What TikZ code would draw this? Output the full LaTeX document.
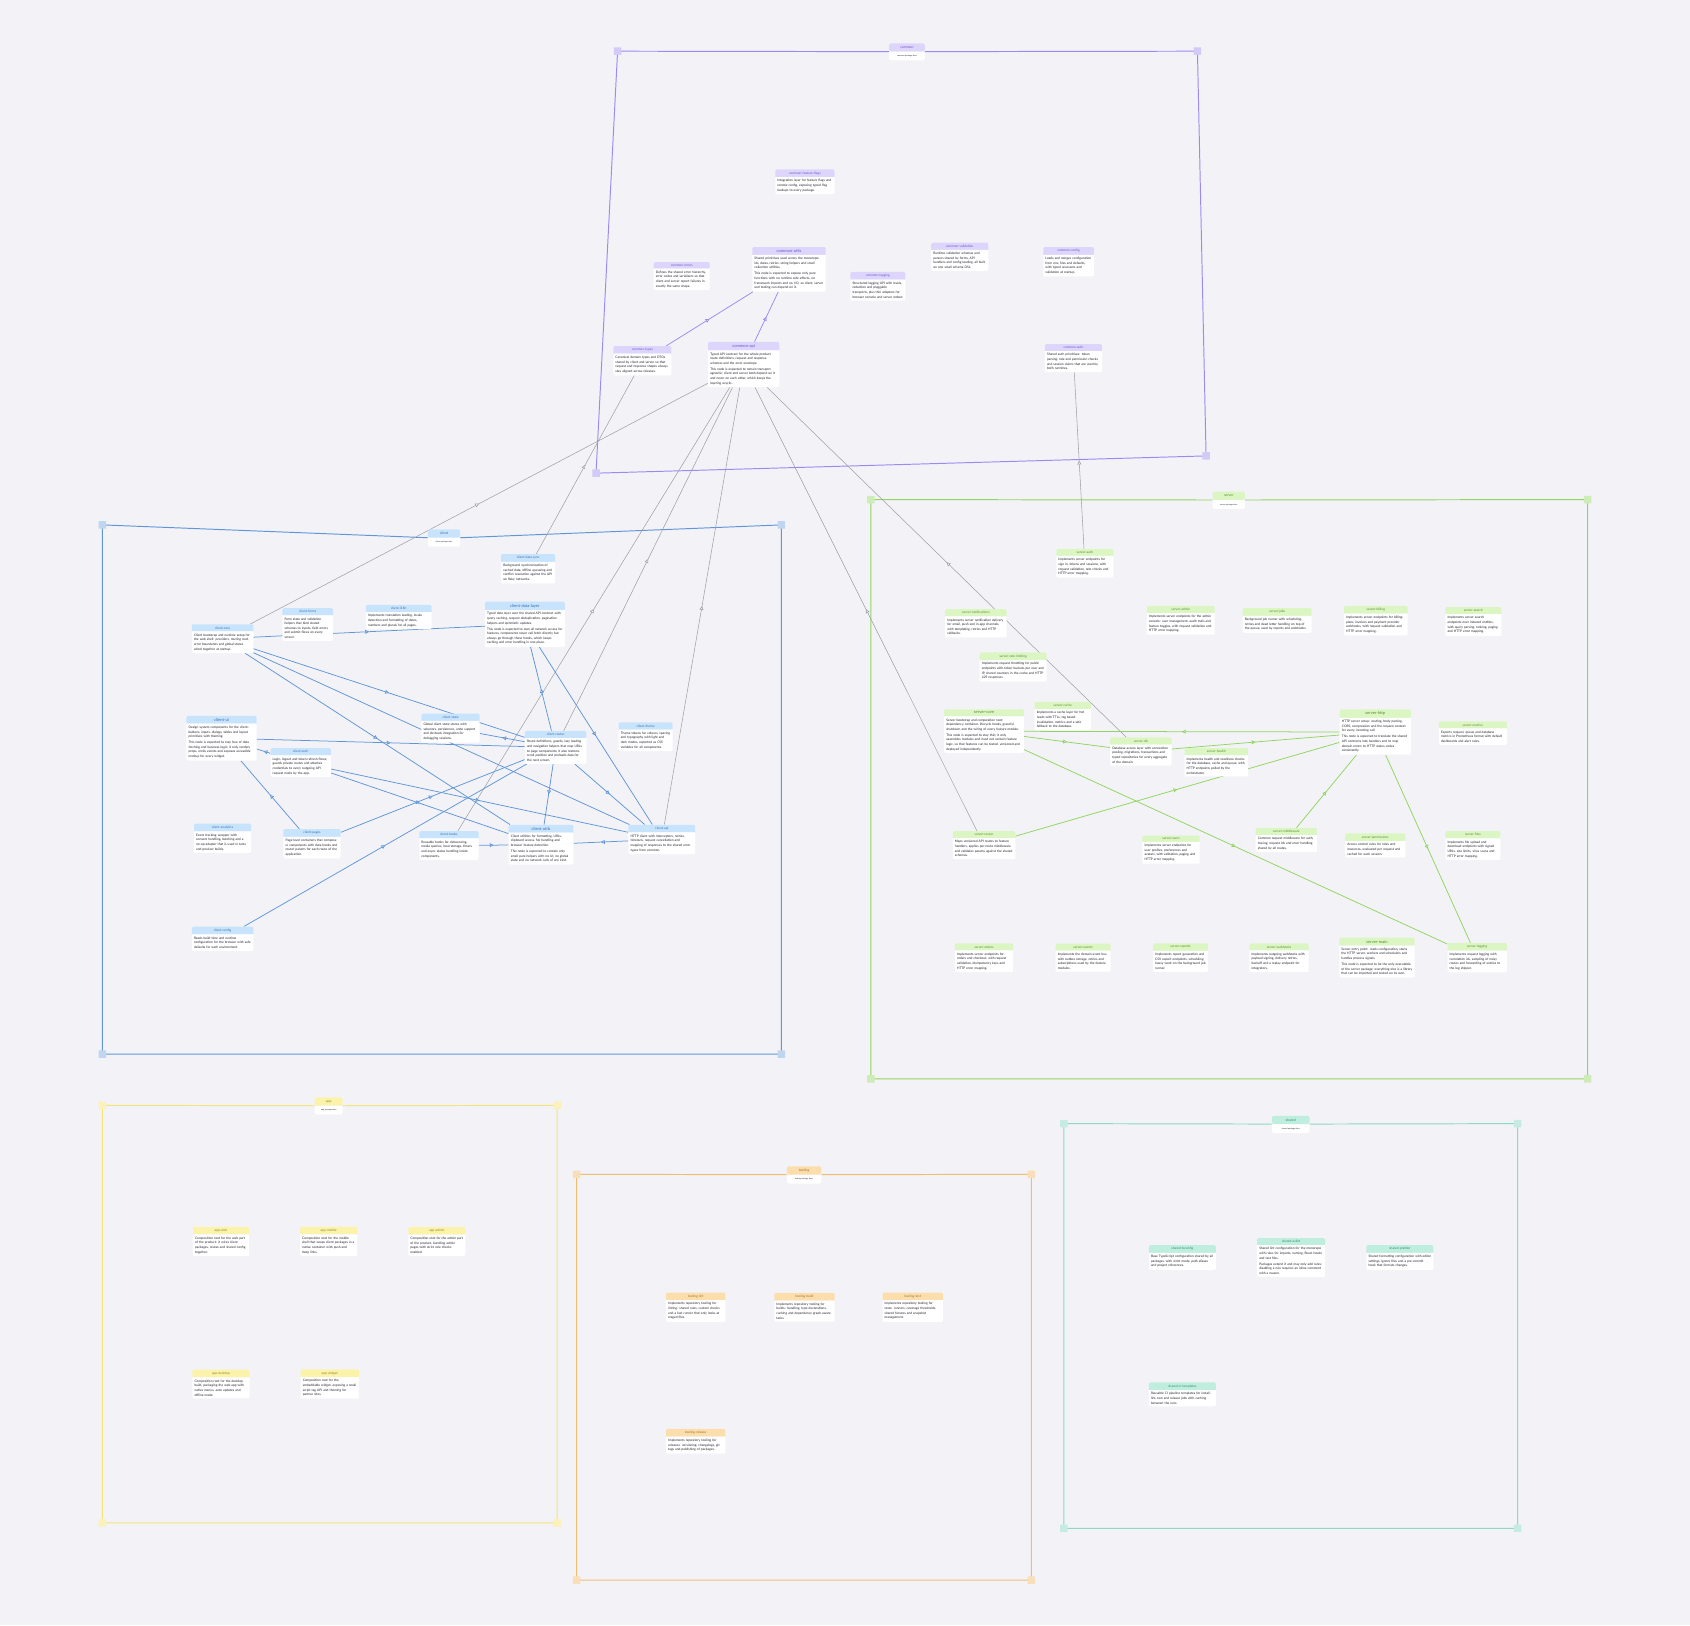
\documentclass[tikz,border=0pt]{standalone}
\usepackage{fontspec}
\setmainfont{Lato}
\usetikzlibrary{positioning,shapes.multipart,arrows.meta,decorations.markings}

\definecolor{paper}{RGB}{243,243,247}
\definecolor{ink}{RGB}{30,30,40}
\definecolor{wire}{RGB}{160,160,170}
\definecolor{cmline}{RGB}{157,138,240}
\definecolor{cmhd}{RGB}{222,213,252}
\definecolor{cmtx}{RGB}{105,88,200}
\definecolor{clline}{RGB}{96,150,215}
\definecolor{clhd}{RGB}{200,228,252}
\definecolor{cltx}{RGB}{55,110,180}
\definecolor{svline}{RGB}{145,212,95}
\definecolor{svhd}{RGB}{220,246,195}
\definecolor{svtx}{RGB}{85,140,45}
\definecolor{apline}{RGB}{245,228,120}
\definecolor{aphd}{RGB}{252,243,170}
\definecolor{aptx}{RGB}{150,130,30}
\definecolor{tlline}{RGB}{240,190,115}
\definecolor{tlhd}{RGB}{252,222,172}
\definecolor{tltx}{RGB}{165,110,35}
\definecolor{shline}{RGB}{140,218,195}
\definecolor{shhd}{RGB}{192,238,222}
\definecolor{shtx}{RGB}{45,140,115}

\setlength{\parindent}{0pt}
\newcommand{\desc}[1]{\par\nodepart{two}\raggedright\color{ink}#1\par}

\pgfdeclarelayer{paperlayer}
\pgfdeclarelayer{wires}
\pgfsetlayers{paperlayer,wires,main}

\tikzset{
  pkg/.style 2 args={rectangle split, rectangle split parts=2, rectangle split draw splits=false,
    rectangle split part fill={#1,white}, rounded corners=1.2pt,
    inner xsep=2pt, inner ysep=2pt, text width=49pt, anchor=north,
    text=#2, font=\fontsize{3}{4.3}\selectfont},
  grp/.style={fill=#1, rounded corners=1.5pt, inner xsep=1.5pt, inner ysep=0pt,
    minimum height=7.5pt, align=center, anchor=north, font=\fontsize{3.2}{3.8}\selectfont},
  grpsub/.style={fill=white, rounded corners=1.5pt, inner xsep=1.5pt, inner ysep=0pt,
    minimum height=8pt, align=center, text=ink, font=\fontsize{1.8}{2.2}\selectfont},
  pkgframe/.style={draw=#1, line width=0.9pt},
  dep/.style={draw=#1, line width=0.7pt, postaction={decorate},
    decoration={markings, mark=at position 0.5 with {\arrow{Triangle[length=3.6pt, width=3.6pt, fill=paper]}}}},
}

\begin{document}
\begin{tikzpicture}[x=1pt, y=-1pt]
    \useasboundingbox (0,0) rectangle (1568,1508);
    \begin{pgfonlayer}{paperlayer}
      \fill[paper] (0,0) rectangle (1568,1508);
    \end{pgfonlayer}

    % group titles
    \node[grp=cmhd, text=cmtx, text width=30pt] (cm) at (841.5,40) {common};
    \node[grpsub, text width=30pt, below=0pt of cm] (cm_sub) {common package docs};
    \node[grp=clhd, text=cltx, text width=27pt] (cl) at (412,491) {client};
    \node[grpsub, text width=27pt, below=0pt of cl] (cl_sub) {client package docs};
    \node[grp=svhd, text=svtx, text width=27pt] (sv) at (1140,456) {server};
    \node[grpsub, text width=27pt, below=0pt of sv] (sv_sub) {server package docs};
    \node[grp=aphd, text=aptx, text width=23pt] (ap) at (305,1018) {app};
    \node[grpsub, text width=23pt, below=0pt of ap] (ap_sub) {app package docs};
    \node[grp=tlhd, text=tltx, text width=29pt] (tl) at (746,1082) {tooling};
    \node[grpsub, text width=29pt, below=0pt of tl] (tl_sub) {tooling package docs};
    \node[grp=shhd, text=shtx, text width=32pt] (sh) at (1197.5,1035) {shared};
    \node[grpsub, text width=32pt, below=0pt of sh] (sh_sub) {shared package docs};

    % define nodes: common
    \node[pkg={cmhd}{cmtx}, text width=51pt] (cm_flags) at (746.8,157) {\centering common-feature-flags\desc{Integration layer for feature flags and remote config, exposing typed flag lookups to every package.}};
    \node[pkg={cmhd}{cmtx}, text width=64pt] (cm_utils) at (732,229) {\centering\fontsize{3.8}{4.6}\selectfont common-utils\desc{Shared primitives used across the monorepo: ids, dates, retries, string helpers and small collection utilities.\par\vspace{1.2pt}This node is expected to expose only pure functions with no runtime side effects, no framework imports and no I/O, so client, server and tooling can depend on it.}};
    \node[pkg={cmhd}{cmtx}, text width=48pt] (cm_errors) at (632.5,243) {\centering common-errors\desc{Defines the shared error hierarchy, error codes and serializers so that client and server report failures in exactly the same shape.}};
    \node[pkg={cmhd}{cmtx}, text width=47pt] (cm_logging) at (814.5,252) {\centering common-logging\desc{Structured logging API with levels, redaction and pluggable transports, plus thin adapters for browser console and server stdout.}};
    \node[pkg={cmhd}{cmtx}, text width=49pt] (cm_validation) at (890.5,225) {\centering common-validation\desc{Runtime validation schemas and parsers shared by forms, API handlers and config loading, all built on one small schema DSL.}};
    \node[pkg={cmhd}{cmtx}, text width=43pt] (cm_config) at (991.5,229) {\centering common-config\desc{Loads and merges configuration from env, files and defaults, with typed accessors and validation at startup.}};
    \node[pkg={cmhd}{cmtx}, text width=50pt] (cm_types) at (596,321) {\centering common-types\desc{Canonical domain types and DTOs shared by client and server so that request and response shapes always stay aligned across releases.}};
    \node[pkg={cmhd}{cmtx}, text width=62pt] (cm_api) at (690,317) {\centering\fontsize{3.8}{4.6}\selectfont common-api\desc{Typed API contract for the whole product: route definitions, request and response schemas and the error envelope.\par\vspace{1.2pt}This node is expected to remain transport agnostic; client and server both depend on it and never on each other, which keeps the layering acyclic.}};
    \node[pkg={cmhd}{cmtx}, text width=49pt] (cm_auth) at (996,319) {\centering common-auth\desc{Shared auth primitives: token parsing, role and permission checks and session claims that are used by both runtimes.}};

    % define nodes: client
    \node[pkg={clhd}{cltx}, text width=53pt] (cl_core) at (206.5,579) {\centering client-core\desc{Client bootstrap and runtime setup for the web shell: providers, routing root, error boundaries and global stores wired together at startup.}};
    \node[pkg={clhd}{cltx}, text width=43pt] (cl_forms) at (285.5,564) {\centering client-forms\desc{Form state and validation helpers that bind shared schemas to inputs, field errors and submit flows on every screen.}};
    \node[pkg={clhd}{cltx}, text width=57pt] (cl_i18n) at (370,561) {\centering client-i18n\desc{Implements translation loading, locale detection and formatting of dates, numbers and plurals for all pages.}};
    \node[pkg={clhd}{cltx}, text width=46pt] (cl_sync) at (490,514) {\centering client-data-sync\desc{Background synchronisation of cached data, offline queueing and conflict resolution against the API on flaky networks.}};
    \node[pkg={clhd}{cltx}, text width=70pt] (cl_data) at (487,558) {\centering\fontsize{3.8}{4.6}\selectfont client-data-layer\desc{Typed data layer over the shared API contract with query caching, request deduplication, pagination helpers and optimistic updates.\par\vspace{1.2pt}This node is expected to own all network access for features; components never call fetch directly but always go through these hooks, which keeps caching and error handling in one place.}};
    \node[pkg={clhd}{cltx}, text width=61pt] (cl_ui) at (205.5,664) {\centering\fontsize{3.8}{4.6}\selectfont client-ui\desc{Design system components for the client: buttons, inputs, dialogs, tables and layout primitives with theming.\par\vspace{1.2pt}This node is expected to stay free of data fetching and business logic; it only renders props, emits events and exposes accessible markup for every widget.}};
    \node[pkg={clhd}{cltx}, text width=50pt] (cl_state) at (418,662) {\centering client-state\desc{Global client state stores with selectors, persistence, undo support and devtools integration for debugging sessions.}};
    \node[pkg={clhd}{cltx}, text width=46pt] (cl_theme) at (599,670) {\centering client-theme\desc{Theme tokens for colours, spacing and typography with light and dark modes, exported as CSS variables for all components.}};
    \node[pkg={clhd}{cltx}, text width=53pt] (cl_router) at (515.5,678) {\centering client-router\desc{Route definitions, guards, lazy loading and navigation helpers that map URLs to page components; it also restores scroll position and preloads data for the next screen.}};
    \node[pkg={clhd}{cltx}, text width=52pt] (cl_auth) at (279,694) {\centering client-auth\desc{Login, logout and token refresh flows; guards private routes and attaches credentials to every outgoing API request made by the app.}};
    \node[pkg={clhd}{cltx}, text width=49pt] (cl_analytics) at (206.5,764) {\centering client-analytics\desc{Event tracking wrapper with consent handling, batching and a no-op adapter that is used in tests and preview builds.}};
    \node[pkg={clhd}{cltx}, text width=49pt] (cl_pages) at (289.5,769) {\centering client-pages\desc{Page level containers that compose ui components with data hooks and router params for each route of the application.}};
    \node[pkg={clhd}{cltx}, text width=51pt] (cl_hooks) at (416.5,771) {\centering client-hooks\desc{Reusable hooks for debouncing, media queries, local storage, timers and async status handling inside components.}};
    \node[pkg={clhd}{cltx}, text width=56pt] (cl_utils) at (502,765) {\centering\fontsize{3.8}{4.6}\selectfont client-utils\desc{Client utilities for formatting, URLs, clipboard access, file handling and browser feature detection.\par\vspace{1.2pt}This node is expected to contain only small pure helpers with no UI, no global state and no network calls of any kind.}};
    \node[pkg={clhd}{cltx}, text width=58pt] (cl_api) at (614,765) {\centering client-api\desc{HTTP client with interceptors, retries, timeouts, request cancellation and mapping of responses to the shared error types from common.}};
    \node[pkg={clhd}{cltx}, text width=53pt, below=68pt of cl_analytics] (cl_config) {\centering client-config\desc{Reads build time and runtime configuration for the browser with safe defaults for each environment.}};

    % define nodes: server
    \node[pkg={svhd}{svtx}, text width=49pt] (sv_auth) at (1006.5,509) {\centering server-auth\desc{Implements server endpoints for sign in, tokens and sessions, with request validation, rate checks and HTTP error mapping.}};
    \node[pkg={svhd}{svtx}, text width=53pt] (sv_notify) at (905.5,565) {\centering server-notifications\desc{Implements server notification delivery for email, push and in-app channels, with templating, retries and HTTP callbacks.}};
    \node[pkg={svhd}{svtx}, text width=59pt] (sv_admin) at (1095.5,562) {\centering server-admin\desc{Implements server endpoints for the admin console: user management, audit trails and feature toggles, with request validation and HTTP error mapping.}};
    \node[pkg={svhd}{svtx}, text width=60pt] (sv_jobs) at (1185,564) {\centering server-jobs\desc{Background job runner with scheduling, retries and dead letter handling on top of the queue, used by reports and webhooks.}};
    \node[pkg={svhd}{svtx}, text width=55pt] (sv_billing) at (1276.5,562) {\centering server-billing\desc{Implements server endpoints for billing: plans, invoices and payment provider webhooks, with request validation and HTTP error mapping.}};
    \node[pkg={svhd}{svtx}, text width=48pt] (sv_search) at (1367,563) {\centering server-search\desc{Implements server search endpoints over indexed entities, with query parsing, ranking, paging and HTTP error mapping.}};
    \node[pkg={svhd}{svtx}, text width=58pt] (sv_ratelimit) at (940,605) {\centering server-rate-limiting\desc{Implements request throttling for public endpoints with token buckets per user and IP, shared counters in the cache and HTTP 429 responses.}};
    \node[pkg={svhd}{svtx}, text width=48pt] (sv_cache) at (986,651) {\centering server-cache\desc{Implements a cache layer for hot reads with TTLs, tag based invalidation, metrics and a safe fallback to the database.}};
    \node[pkg={svhd}{svtx}, text width=70pt] (sv_core) at (913,658) {\centering\fontsize{3.8}{4.6}\selectfont server-core\desc{Server bootstrap and composition root: dependency container, lifecycle hooks, graceful shutdown and the wiring of every feature module.\par\vspace{1.2pt}This node is expected to stay thin; it only assembles modules and must not contain feature logic, so that features can be tested, versioned and deployed independently.}};
    \node[pkg={svhd}{svtx}, text width=53pt] (sv_db) at (1058.5,684) {\centering server-db\desc{Database access layer with connection pooling, migrations, transactions and typed repositories for every aggregate of the domain.}};
    \node[pkg={svhd}{svtx}, text width=55pt] (sv_health) at (1128.5,694) {\centering server-health\desc{Implements health and readiness checks for the database, cache and queue, with HTTP endpoints polled by the orchestrator.}};
    \node[pkg={svhd}{svtx}, text width=62pt] (sv_http) at (1276,658) {\centering\fontsize{3.8}{4.6}\selectfont server-http\desc{HTTP server setup: routing, body parsing, CORS, compression and the request context for every incoming call.\par\vspace{1.2pt}This node is expected to translate the shared API contracts into handlers and to map domain errors to HTTP status codes consistently.}};
    \node[pkg={svhd}{svtx}, text width=59pt] (sv_metrics) at (1366.5,669) {\centering server-metrics\desc{Exports request, queue and database metrics in Prometheus format with default dashboards and alert rules.}};
    \node[pkg={svhd}{svtx}, text width=54pt] (sv_router) at (913,771) {\centering server-router\desc{Maps versioned API routes to feature handlers, applies per-route middleware and validates params against the shared schemas.}};
    \node[pkg={svhd}{svtx}, text width=49pt] (sv_users) at (1086.5,775) {\centering server-users\desc{Implements server endpoints for user profiles, preferences and avatars, with validation, paging and HTTP error mapping.}};
    \node[pkg={svhd}{svtx}, text width=53pt] (sv_middleware) at (1193.5,768) {\centering server-middleware\desc{Common request middleware for auth, tracing, request ids and error handling shared by all routes.}};
    \node[pkg={svhd}{svtx}, text width=52pt] (sv_perms) at (1276,773) {\centering server-permissions\desc{Access control rules for roles and resources, evaluated per request and cached for each session.}};
    \node[pkg={svhd}{svtx}, text width=47pt] (sv_files) at (1366.5,771) {\centering server-files\desc{Implements file upload and download endpoints with signed URLs, size limits, virus scans and HTTP error mapping.}};
    \node[pkg={svhd}{svtx}, text width=50pt] (sv_orders) at (913,875) {\centering server-orders\desc{Implements server endpoints for orders and checkout, with request validation, idempotency keys and HTTP error mapping.}};
    \node[pkg={svhd}{svtx}, text width=47pt, right=39pt of sv_orders] (sv_events) {\centering server-events\desc{Implements the domain event bus with outbox storage, retries and subscriptions used by the feature modules.}};
    \node[pkg={svhd}{svtx}, text width=47pt, right=39pt of sv_events] (sv_reports) {\centering server-reports\desc{Implements report generation and CSV export endpoints, scheduling heavy work on the background job runner.}};
    \node[pkg={svhd}{svtx}, text width=51pt, right=38pt of sv_reports] (sv_webhooks) {\centering server-webhooks\desc{Implements outgoing webhooks with payload signing, delivery retries, backoff and a replay endpoint for integrators.}};
    \node[pkg={svhd}{svtx}, text width=66pt, right=28pt of sv_webhooks] (sv_main) {\centering\fontsize{3.8}{4.6}\selectfont server-main\desc{Server entry point: reads configuration, starts the HTTP server, workers and schedulers and handles process signals.\par\vspace{1.2pt}This node is expected to be the only executable of the server package; everything else is a library that can be imported and tested on its own.}};
    \node[pkg={svhd}{svtx}, text width=51pt, right=30pt of sv_main] (sv_logging) {\centering server-logging\desc{Implements request logging with correlation ids, sampling of noisy routes and forwarding of entries to the log shipper.}};

    % define nodes: app
    \node[pkg={aphd}{aptx}, text width=48pt] (app_web) at (205,1138) {\centering app-web\desc{Composition root for the web part of the product: it wires client packages, routes and shared config together.}};
    \node[pkg={aphd}{aptx}, right=47pt of app_web] (app_mobile) {\centering app-mobile\desc{Composition root for the mobile shell that wraps client packages in a native container with push and deep links.}};
    \node[pkg={aphd}{aptx}, right=47pt of app_mobile] (app_admin) {\centering app-admin\desc{Composition root for the admin part of the product, bundling admin pages with strict role checks enabled.}};
    \node[pkg={aphd}{aptx}, below=105pt of app_web] (app_desktop) {\centering app-desktop\desc{Composition root for the desktop build, packaging the web app with native menus, auto updates and offline mode.}};
    \node[pkg={aphd}{aptx}, text width=50pt, right=47pt of app_desktop] (app_widget) {\centering app-widget\desc{Composition root for the embeddable widget, exposing a small script tag API and theming for partner sites.}};

    % define nodes: tooling
    \node[pkg={tlhd}{tltx}, text width=51pt] (tl_lint) at (645.5,1199) {\centering tooling-lint\desc{Implements repository tooling for linting: shared rules, custom checks and a fast runner that only looks at staged files.}};
    \node[pkg={tlhd}{tltx}, text width=52pt, right=45pt of tl_lint] (tl_build) {\centering tooling-build\desc{Implements repository tooling for builds: bundling, type declarations, caching and dependency graph aware tasks.}};
    \node[pkg={tlhd}{tltx}, text width=52pt, right=44pt of tl_build] (tl_test) {\centering tooling-test\desc{Implements repository tooling for tests: runners, coverage thresholds, shared fixtures and snapshot management.}};
    \node[pkg={tlhd}{tltx}, text width=51pt, below=99pt of tl_lint] (tl_release) {\centering tooling-release\desc{Implements repository tooling for releases: versioning, changelogs, git tags and publishing of packages.}};

    % define nodes: shared
    \node[pkg={shhd}{shtx}, text width=58pt] (sh_ts) at (1097,1155) {\centering shared-tsconfig\desc{Base TypeScript configuration shared by all packages, with strict mode, path aliases and project references.}};
    \node[pkg={shhd}{shtx}, text width=59pt, right=38pt of sh_ts] (sh_eslint) {\centering shared-eslint\desc{Shared lint configuration for the monorepo with rules for imports, naming, React hooks and test files.\par\vspace{1.2pt}Packages extend it and may only add rules; disabling a rule requires an inline comment with a reason.}};
    \node[pkg={shhd}{shtx}, text width=58pt, right=38pt of sh_eslint] (sh_prettier) {\centering shared-prettier\desc{Shared formatting configuration with editor settings, ignore files and a pre-commit hook that formats changes.}};
    \node[pkg={shhd}{shtx}, text width=58pt, below=104pt of sh_ts] (sh_ci) {\centering shared-ci-templates\desc{Reusable CI pipeline templates for install, lint, test and release jobs with caching between the runs.}};

    \begin{pgfonlayer}{wires}
    % groups
    \coordinate (cm_nw) at (573,47.5);
    \coordinate (cm_ne) at (1111,47.5);
    \coordinate (cm_se) at (1119,423);
    \coordinate (cm_sw) at (553,439);
    \draw[pkgframe=cmline] (cm.south east) -- (cm_ne) -- (cm_se) -- (cm_sw) -- (cm_nw) -- (cm.south west);
    \fill[cmline!45] (cm_nw) +(-3.5,-3.5) rectangle +(3.5,3.5) (cm_ne) +(-3.5,-3.5) rectangle +(3.5,3.5)
      (cm_se) +(-3.5,-3.5) rectangle +(3.5,3.5) (cm_sw) +(-3.5,-3.5) rectangle +(3.5,3.5);

    \coordinate (cl_nw) at (95,487);
    \coordinate (cl_ne) at (725,487);
    \coordinate (cl_se) at (725,978);
    \coordinate (cl_sw) at (95,978);
    \draw[pkgframe=clline] (cl.south east) -- (cl_ne) -- (cl_se) -- (cl_sw) -- (cl_nw) -- (cl.south west);
    \fill[clline!40] (cl_nw) +(-3.5,-3.5) rectangle +(3.5,3.5) (cl_ne) +(-3.5,-3.5) rectangle +(3.5,3.5)
      (cl_se) +(-3.5,-3.5) rectangle +(3.5,3.5) (cl_sw) +(-3.5,-3.5) rectangle +(3.5,3.5);

    \coordinate (sv_nw) at (808,463.5);
    \coordinate (sv_ne) at (1473,463.5);
    \coordinate (sv_se) at (1473,1001);
    \coordinate (sv_sw) at (808,1001);
    \draw[pkgframe=svline] (sv.south east) -- (sv_ne) -- (sv_se) -- (sv_sw) -- (sv_nw) -- (sv.south west);
    \fill[svline!45] (sv_nw) +(-3.5,-3.5) rectangle +(3.5,3.5) (sv_ne) +(-3.5,-3.5) rectangle +(3.5,3.5)
      (sv_se) +(-3.5,-3.5) rectangle +(3.5,3.5) (sv_sw) +(-3.5,-3.5) rectangle +(3.5,3.5);

    \coordinate (ap_nw) at (95,1025.5);
    \coordinate (ap_ne) at (517,1025.5);
    \coordinate (ap_se) at (517,1413);
    \coordinate (ap_sw) at (95,1413);
    \draw[pkgframe=apline] (ap.south east) -- (ap_ne) -- (ap_se) -- (ap_sw) -- (ap_nw) -- (ap.south west);
    \fill[apline!50] (ap_nw) +(-3.5,-3.5) rectangle +(3.5,3.5) (ap_ne) +(-3.5,-3.5) rectangle +(3.5,3.5)
      (ap_se) +(-3.5,-3.5) rectangle +(3.5,3.5) (ap_sw) +(-3.5,-3.5) rectangle +(3.5,3.5);

    \coordinate (tl_nw) at (535,1089.5);
    \coordinate (tl_ne) at (957,1089.5);
    \coordinate (tl_se) at (957,1466);
    \coordinate (tl_sw) at (535,1466);
    \draw[pkgframe=tlline] (tl.south east) -- (tl_ne) -- (tl_se) -- (tl_sw) -- (tl_nw) -- (tl.south west);
    \fill[tlline!50] (tl_nw) +(-3.5,-3.5) rectangle +(3.5,3.5) (tl_ne) +(-3.5,-3.5) rectangle +(3.5,3.5)
      (tl_se) +(-3.5,-3.5) rectangle +(3.5,3.5) (tl_sw) +(-3.5,-3.5) rectangle +(3.5,3.5);

    \coordinate (sh_nw) at (987,1042.5);
    \coordinate (sh_ne) at (1408,1042.5);
    \coordinate (sh_se) at (1408,1418);
    \coordinate (sh_sw) at (987,1418);
    \draw[pkgframe=shline] (sh.south east) -- (sh_ne) -- (sh_se) -- (sh_sw) -- (sh_nw) -- (sh.south west);
    \fill[shline!50] (sh_nw) +(-3.5,-3.5) rectangle +(3.5,3.5) (sh_ne) +(-3.5,-3.5) rectangle +(3.5,3.5)
      (sh_se) +(-3.5,-3.5) rectangle +(3.5,3.5) (sh_sw) +(-3.5,-3.5) rectangle +(3.5,3.5);

    % connect the nodes
    \draw[dep=cmline] (cm_types) -- (cm_utils);
    \draw[dep=cmline] (cm_api) -- (cm_utils);

    \draw[dep=wire, line width=0.5pt] (cl_core) -- (cm_api);
    \draw[dep=wire, line width=0.5pt] (cl_sync) -- (cm_types);
    \draw[dep=wire, line width=0.5pt] (cl_router) -- (cm_api);
    \draw[dep=wire, line width=0.5pt] (cl_hooks) -- (cm_api);
    \draw[dep=wire, line width=0.5pt] (cl_api) -- (cm_api);
    \draw[dep=wire, line width=0.5pt] (sv_router) -- (cm_api);
    \draw[dep=wire, line width=0.5pt] (sv_db) -- (cm_api);
    \draw[dep=wire, line width=0.5pt] (sv_auth) -- (cm_auth);

    \draw[dep=clline] (cl_core) -- (cl_data);
    \draw[dep=clline] (cl_core) -- (cl_router);
    \draw[dep=clline] (cl_core) -- (cl_utils);
    \draw[dep=clline] (cl_core) -- (cl_api);
    \draw[dep=clline] (cl_router) -- (cl_data);
    \draw[dep=clline] (cl_data) -- (cl_api);
    \draw[dep=clline] (cl_ui) -- (cl_router);
    \draw[dep=clline] (cl_auth) -- (cl_ui);
    \draw[dep=clline] (cl_pages) -- (cl_ui);
    \draw[dep=clline] (cl_auth) -- (cl_api);
    \draw[dep=clline] (cl_auth) -- (cl_utils);
    \draw[dep=clline] (cl_pages) -- (cl_router);
    \draw[dep=clline] (cl_config) -- (cl_router);
    \draw[dep=clline] (cl_router) -- (cl_state);
    \draw[dep=clline] (cl_router) -- (cl_utils);
    \draw[dep=clline] (cl_router) -- (cl_api);
    \draw[dep=clline] (cl_api) -- (cl_utils);
    \draw[dep=clline] (cl_hooks) -- (cl_utils);

    \draw[dep=svline] (sv_http) -- (sv_core);
    \draw[dep=svline] (sv_core) -- (sv_db);
    \draw[dep=svline] (sv_db) -- (sv_http);
    \draw[dep=svline] (sv_core) -- (sv_logging);
    \draw[dep=svline] (sv_router) -- (sv_http);
    \draw[dep=svline] (sv_middleware) -- (sv_http);
    \draw[dep=svline] (sv_http) -- (sv_logging);
    \end{pgfonlayer}

\end{tikzpicture}
\end{document}
